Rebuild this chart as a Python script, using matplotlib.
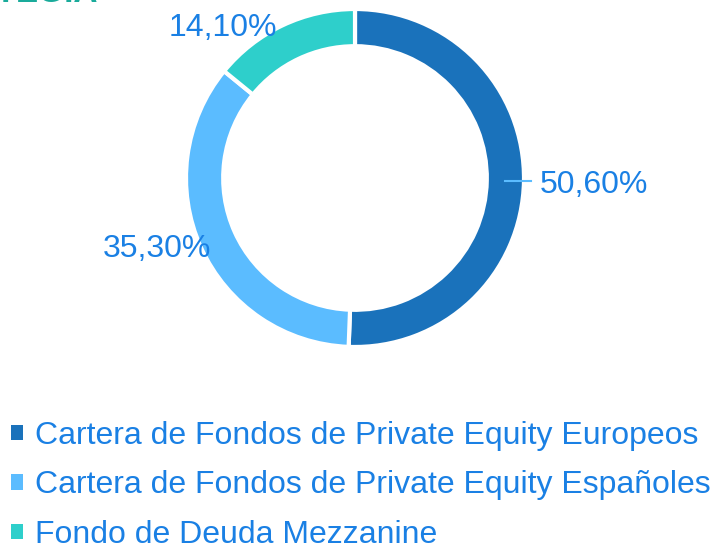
import matplotlib.pyplot as plt
from matplotlib.patches import Patch

plt.rcParams["font.family"] = ["Liberation Sans", "DejaVu Sans"]

labels = ["Cartera de Fondos de Private Equity Europeos",
          "Cartera de Fondos de Private Equity Españoles",
          "Fondo de Deuda Mezzanine"]
values = [50.6, 35.3, 14.1]
colors = ["#1a72bb", "#5bbcff", "#2ecfcb"]
text_blue = "#1a80e4"

fig = plt.figure(figsize=(7.14, 5.46), dpi=100)
ax = fig.add_axes([0.2605, 0.3645, 0.4734, 0.619])

ax.pie(values, colors=colors, startangle=90, counterclock=False,
       wedgeprops=dict(width=0.22, edgecolor="white", linewidth=3))
ax.set_xlim(-1, 1)
ax.set_ylim(-1, 1)
ax.set_aspect("equal")
ax.axis("off")

def pct(v):
    return f"{v:.2f}".replace(".", ",") + "%"

# value labels
ax.plot([0.89, 1.04], [-0.015, -0.015], color="#5bbcff", lw=1.5, clip_on=False)
ax.text(1.095, -0.04, pct(values[0]), color=text_blue, fontsize=23,
        ha="left", va="center")
ax.text(-1.17, -0.42, pct(values[1]), color=text_blue, fontsize=23,
        ha="center", va="center")
ax.text(-0.78, 0.89, pct(values[2]), color=text_blue, fontsize=23,
        ha="center", va="center")

# title cut off by the top edge
fig.text(0.138, 0.996, "ESTRATEGIA", color="#1aab9b", fontsize=24,
         fontweight="bold", ha="right", va="baseline")

handles = [Patch(facecolor=c, edgecolor="none") for c in colors]
leg = fig.legend(handles, labels, loc="upper left", bbox_to_anchor=(0.016, 0.229),
                 frameon=False, fontsize=23, labelcolor=text_blue,
                 handlelength=0.36, handleheight=0.36, handletextpad=0.38,
                 labelspacing=0.61, borderaxespad=0, borderpad=0)

fig.savefig("out.png", dpi=100)
